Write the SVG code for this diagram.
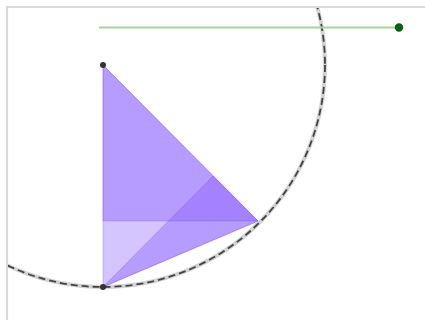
<svg xmlns="http://www.w3.org/2000/svg" width="425" height="320" viewBox="0 0 425 320">
<defs>
<style>
.poly{fill:#7c4dff;fill-opacity:0.33;stroke:#7c4dff;stroke-opacity:0.3;stroke-width:1}
.pt{fill:#333333}
</style>
<clipPath id="frame"><rect x="8" y="8" width="417" height="312"/></clipPath>
</defs>
<rect x="0" y="0" width="425" height="320" fill="#ffffff"/>
<path d="M7 320 V7 H425" fill="none" stroke="#dadada" stroke-width="2.2"/>
<g id="connectors">
<g id="circle" clip-path="url(#frame)">
<circle cx="103" cy="65" r="222" fill="none" stroke="#d2d2d2" stroke-width="4"/>
<circle cx="103" cy="65" r="222" fill="none" stroke="#444444" stroke-width="1.8" stroke-dasharray="7,4"/>
</g>
<line id="slider" x1="99" y1="27.5" x2="399" y2="27.5" stroke="#a9d3a0" stroke-width="2"/>
</g>
<g id="triangles">
<polygon class="poly" points="103,65 103,287 258,221"/>
<polygon class="poly" points="103,65 103,221 258,221"/>
<polygon class="poly" points="103,287 258,221 213,176"/>
</g>
<g id="pointA"><circle class="pt" cx="103" cy="65" r="3"/></g>
<g id="pointB"><circle class="pt" cx="103" cy="287" r="3"/></g>
<g id="sliderPoint"><circle cx="399" cy="27.5" r="4.2" fill="#0b5e14"/></g>
</svg>
